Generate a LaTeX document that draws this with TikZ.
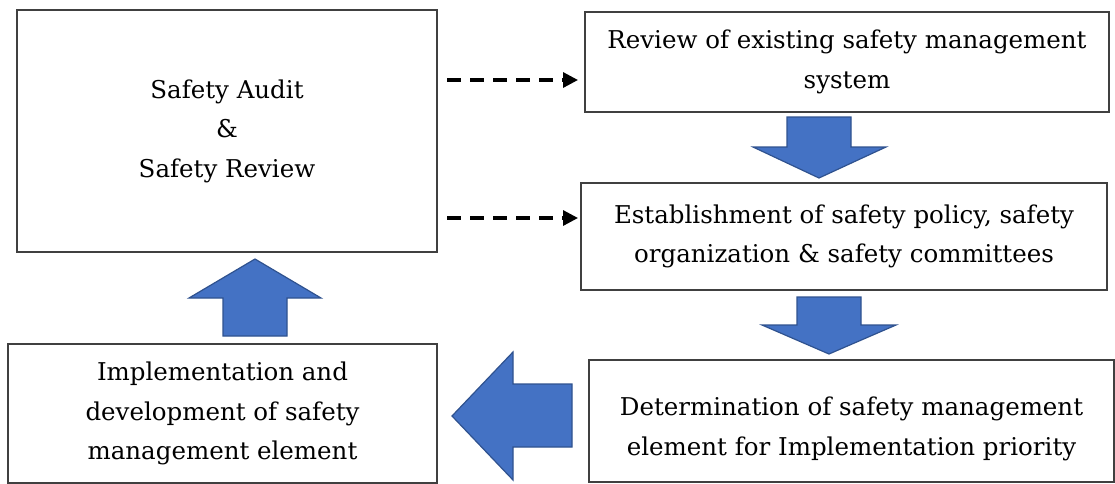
\documentclass[tikz,border=0pt]{standalone}
\usepackage{fontspec}
\setmainfont{DejaVu Serif}
\usetikzlibrary{arrows.meta}
\definecolor{blockblue}{HTML}{4472C4}
\definecolor{blockedge}{HTML}{2F528F}
\definecolor{boxedge}{HTML}{404040}
\begin{document}
\begin{tikzpicture}[x=1pt,y=-1pt,
  box/.style={draw=boxedge,line width=1.2pt,fill=white,align=center,inner sep=0pt,
    font=\fontsize{24.5}{39.5}\selectfont},
  boxtext/.style={align=center,inner sep=0pt,font=\fontsize{24.5}{39.5}\selectfont},
  blockarrow/.style={fill=blockblue,draw=blockedge,line width=1.2pt,line join=miter},
  dasharrow/.style={line width=3.2pt,dash pattern=on 13.5pt off 9.5pt,
    -{Triangle[length=15pt,width=15pt]}}]
\useasboundingbox (0,0) rectangle (1115,483);
% boxes
\node[box,minimum width=420pt,minimum height=242pt] (audit) at (227,131)
  {Safety Audit\\\&\\Safety Review};
\node[box,minimum width=524pt,minimum height=100pt] (review) at (847,62)
  {Review of existing safety management\\system};
\node[box,minimum width=526pt,minimum height=107pt] (estab) at (844,236.5)
  {Establishment of safety policy, safety\\organization \& safety committees};
\node[box,minimum width=525pt,minimum height=122pt] (determ) at (851.5,421) {};
\node[boxtext] (determtext) at ([yshift=-8pt]determ.center)
  {Determination of safety management\\element for Implementation priority};
\node[box,minimum width=429pt,minimum height=139pt] (impl) at (222.5,413.5)
  {Implementation and\\development of safety\\management element};
% dashed connectors
\coordinate (d1s) at (447,80);
\coordinate (d1e) at (578,80);
\coordinate (d2s) at (447,218);
\coordinate (d2e) at (578,218);
\draw[dasharrow] (d1s) -- (d1e);
\draw[dasharrow] (d2s) -- (d2e);
% block arrows
\draw[blockarrow] (787,117) -- (851,117) -- (851,147) -- (886,147) -- (819,178)
  -- (753,147) -- (787,147) -- cycle;
\draw[blockarrow] (797,297) -- (861,297) -- (861,325) -- (896,325) -- (829,354)
  -- (762,325) -- (797,325) -- cycle;
\draw[blockarrow] (572,384) -- (572,447) -- (513,447) -- (513,480) -- (452,416)
  -- (513,352) -- (513,384) -- cycle;
\draw[blockarrow] (223,336) -- (287,336) -- (287,298) -- (321,298) -- (255,259)
  -- (189,298) -- (223,298) -- cycle;
\end{tikzpicture}
\end{document}
